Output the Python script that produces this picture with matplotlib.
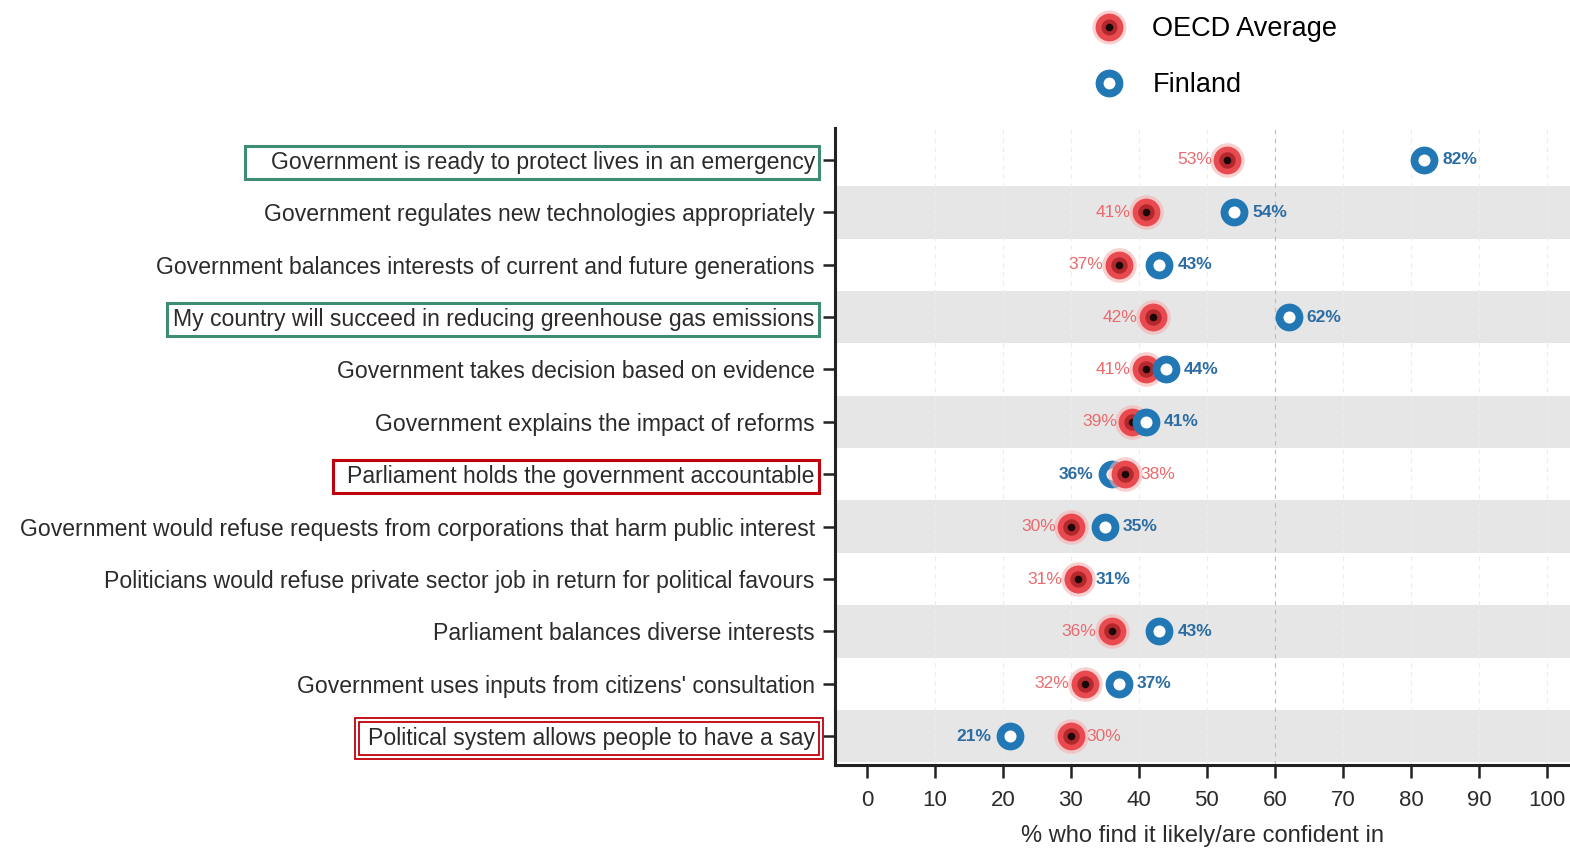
import matplotlib
matplotlib.use('Agg')
import matplotlib.pyplot as plt
from matplotlib.patches import Rectangle
from matplotlib.lines import Line2D

items = [
    'Government is ready to protect lives in an emergency',
    'Government regulates new technologies appropriately',
    'Government balances interests of current and future generations',
    'My country will succeed in reducing greenhouse gas emissions',
    'Government takes decision based on evidence',
    'Government explains the impact of reforms',
    'Parliament holds the government accountable',
    'Government would refuse requests from corporations that harm public interest',
    'Politicians would refuse private sector job in return for political favours',
    'Parliament balances diverse interests',
    "Government uses inputs from citizens' consultation",
    'Political system allows people to have a say',
]
oecd = [53, 41, 37, 42, 41, 39, 38, 30, 31, 36, 32, 30]
finland = [82, 54, 43, 62, 44, 41, 36, 35, 31, 43, 37, 21]
xticks = list(range(0, 101, 10))

# (row, colour, double line, extra left padding in px)
highlights = [
    (0, '#3d8c73', False, 22),
    (3, '#3d8c73', False, 2),
    (6, '#c0000b', False, 10),
    (11, '#c0000b', True, 5),
]

RED = '#e84a4f'
BLUE = '#2278b5'
TXT = '#2b2b2b'

plt.rcParams['font.family'] = ['Liberation Sans', 'DejaVu Sans']

fig = plt.figure(figsize=(15.7, 8.49), dpi=100)
W, H = 1570, 849
ax = fig.add_axes([835 / W, 84 / H, 735 / W, 637 / H])

n = len(items)
ys = [n - 1 - i for i in range(n)]

# alternating bands
for i, y in enumerate(ys):
    if i % 2 == 1:
        ax.axhspan(y - 0.5, y + 0.5, color='#e6e6e6', lw=0, zorder=0)

for x in xticks[1:]:
    c = '#bcbcbc' if x == 60 else '#ececec'
    ax.axvline(x, color=c, ls=(0, (4, 4)), lw=0.8, zorder=0.5)


def draw_oecd(x, y, z):
    ax.scatter([x], [y], s=620, color='#f6b0b0', alpha=0.6, lw=0, zorder=z)
    ax.scatter([x], [y], s=400, color=RED, lw=0, zorder=z + 0.1)
    ax.scatter([x], [y], s=140, color='#b3282c', lw=0, zorder=z + 0.2)
    ax.scatter([x], [y], s=30, color='#1a0808', lw=0, zorder=z + 0.3)


def draw_fin(x, y, z):
    ax.scatter([x], [y], s=400, color=BLUE, lw=0, zorder=z)
    ax.scatter([x], [y], s=75, color='white', lw=0, zorder=z + 0.1)


for i, y in enumerate(ys):
    o, f = oecd[i], finland[i]
    if f > o:
        draw_oecd(o, y, 3)
        draw_fin(f, y, 4)
    else:
        draw_fin(f, y, 3)
        draw_oecd(o, y, 4)
    if o <= f:
        ax.annotate(f'{o}%', (o, y), xytext=(-11, 0), textcoords='offset points',
                    ha='right', va='center', fontsize=12.5, color='#ea6a6e')
        ax.annotate(f'{f}%', (f, y), xytext=(13, 0), textcoords='offset points',
                    ha='left', va='center', fontsize=12.5, color='#2a6ca3', fontweight='bold')
    else:
        ax.annotate(f'{o}%', (o, y), xytext=(11, 0), textcoords='offset points',
                    ha='left', va='center', fontsize=12.5, color='#ea6a6e')
        ax.annotate(f'{f}%', (f, y), xytext=(-13, 0), textcoords='offset points',
                    ha='right', va='center', fontsize=12.5, color='#2a6ca3', fontweight='bold')

ax.set_xlim(-4.7, 103.4)
ax.set_ylim(-0.55, n - 1 + 0.61)
ax.set_xticks(xticks)
ax.set_xticklabels([str(x) for x in xticks], fontsize=16, color=TXT)
ax.set_yticks(ys)
ax.set_yticklabels(items, fontsize=16.6, color=TXT)
ax.tick_params(axis='x', length=9, width=1.8, pad=9, color='#222222')
ax.tick_params(axis='y', length=8.5, width=1.8, pad=6, color='#222222')
ax.set_xlabel('% who find it likely/are confident in', fontsize=17, color=TXT, labelpad=10)

for s in ['top', 'right']:
    ax.spines[s].set_visible(False)
for s in ['left', 'bottom']:
    ax.spines[s].set_linewidth(2.2)
    ax.spines[s].set_color('#222222')

# legend
h_oecd = (Line2D([], [], marker='o', ls='', ms=24.5, color='#f6b0b0', alpha=0.6, mew=0),
          Line2D([], [], marker='o', ls='', ms=20, color=RED, mew=0),
          Line2D([], [], marker='o', ls='', ms=11.5, color='#b3282c', mew=0),
          Line2D([], [], marker='o', ls='', ms=5.5, color='#1a0808', mew=0))
h_fin = (Line2D([], [], marker='o', ls='', ms=20, color=BLUE, mew=0),
         Line2D([], [], marker='o', ls='', ms=8.5, color='white', mew=0))
fig.legend([h_oecd, h_fin], ['OECD Average', 'Finland'], loc='upper left',
           bbox_to_anchor=(1067 / W, 1.0 + 8 / H), frameon=False, fontsize=19.5,
           handlelength=1.3, handletextpad=0.95, labelspacing=1.1)

# highlight boxes around some labels
fig.canvas.draw()
r = fig.canvas.get_renderer()
labels = ax.get_yticklabels()
for row, col, double, extra in highlights:
    bb = labels[row].get_window_extent(r)
    x0, x1 = bb.x0 - 4 - extra, bb.x1 + 4
    y0, y1 = bb.y0 - 5, bb.y1 + 5
    if double:
        for p in (0, 4):
            fig.add_artist(Rectangle(((x0 - p) / W, (y0 - p) / H), (x1 - x0 + 2 * p) / W,
                                     (y1 - y0 + 2 * p) / H, transform=fig.transFigure,
                                     fill=False, ec=col, lw=1.3))
    else:
        fig.add_artist(Rectangle((x0 / W, y0 / H), (x1 - x0) / W, (y1 - y0) / H,
                                 transform=fig.transFigure, fill=False, ec=col, lw=2.2))

fig.savefig('out.png', dpi=100)
